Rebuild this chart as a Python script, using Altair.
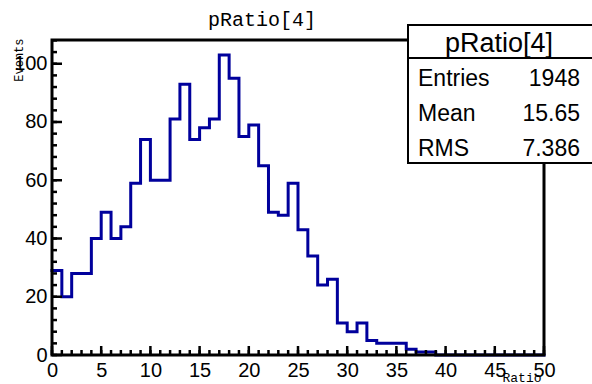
import altair as alt
import pandas as pd

# Histogram pRatio[4]: 50 bins of width 1 on [0, 50]
x_lo, x_hi, n_bins = 0, 50, 50
bin_counts = [29, 20, 28, 28, 40, 49, 40, 44, 59, 74,
              60, 60, 81, 93, 74, 78, 81, 103, 95, 75,
              79, 65, 49, 48, 59, 43, 34, 24, 26, 11,
              8, 11, 5, 4, 4, 4, 2, 1, 1, 0,
              0, 0, 0, 0, 0, 0, 0, 0, 0, 0]

x_major = list(range(0, 51, 5))
x_minor = list(range(0, 51, 1))
y_major = list(range(0, 101, 20))
y_minor = list(range(0, 109, 4))

hist_title = "pRatio[4]"
x_title = "Ratio"
y_title = "Events"
stat_names = ["Entries", "Mean", "RMS"]
stat_values = ["1948", "15.65", "7.386"]

y_max = 1.05 * max(bin_counts)

# plot-area size in pixels
W, H = 492, 315
LINE_BLUE = "#00009c"
SANS = "Liberation Sans"
MONO = "Liberation Mono"

edges = [x_lo + i * (x_hi - x_lo) / n_bins for i in range(n_bins + 1)]
hist = pd.DataFrame({"x": edges, "n": bin_counts + [bin_counts[-1]]})

xs = alt.Scale(domain=[x_lo, x_hi], nice=False, zero=False)
ys = alt.Scale(domain=[0, y_max], nice=False)

x_axis = alt.Axis(values=x_major, ticks=False, domain=False, grid=False,
                  labelFont=SANS, labelFontSize=20, labelColor="black",
                  labelPadding=5, labelBaseline="top", labelFlush=False,
                  title=x_title, titleFont=MONO, titleFontSize=13,
                  titleFontWeight="normal", titleColor="black",
                  titleAnchor="end", titleX=489, titleY=26,
                  titleBaseline="alphabetic")
y_axis = alt.Axis(values=y_major, ticks=False, domain=False, grid=False,
                  labelFont=SANS, labelFontSize=20, labelColor="black",
                  labelPadding=5, labelFlush=False,
                  title=y_title, titleFont=MONO, titleFontSize=12,
                  titleFontWeight="normal", titleColor="black",
                  titleAnchor="end", titleX=-27, titleY=-2,
                  titleBaseline="bottom")

X = alt.X("x:Q", scale=xs, axis=x_axis)
Y = alt.Y("n:Q", scale=ys, axis=y_axis)

one = pd.DataFrame({"k": [0]})

# histogram outline
line = alt.Chart(hist).mark_line(
    interpolate="step-after", color=LINE_BLUE, strokeWidth=3,
    strokeJoin="miter", strokeCap="square"
).encode(x=X, y=Y)

# frame around the plot area
frame = alt.Chart(one).mark_rect(
    fillOpacity=0, stroke="black", strokeWidth=3
).encode(x=alt.value(0), x2=alt.value(W), y=alt.value(0), y2=alt.value(H))

# inward ticks
def xticks(vals, size):
    return alt.Chart(pd.DataFrame({"x": vals})).mark_rule(
        color="black", strokeWidth=2.5
    ).encode(x=X, y=alt.value(H), y2=alt.value(H - size))

def yticks(vals, size):
    return alt.Chart(pd.DataFrame({"n": vals})).mark_rule(
        color="black", strokeWidth=2.5
    ).encode(y=Y, x=alt.value(0), x2=alt.value(size))

ticks = [xticks(x_minor, 5), xticks(x_major, 9),
         yticks(y_minor, 5), yticks(y_major, 10)]

# title
title = alt.Chart(pd.DataFrame({"t": [hist_title]})).mark_text(
    font=MONO, fontSize=20, align="center", baseline="alphabetic", color="black"
).encode(x=alt.value(210), y=alt.value(-14), text="t:N")

# statistics box
bx0, bx1, by0, by1 = 356, 560, -15, 123
box = alt.Chart(one).mark_rect(
    fill="white", stroke="black", strokeWidth=2
).encode(x=alt.value(bx0), x2=alt.value(bx1), y=alt.value(by0), y2=alt.value(by1))
divider = alt.Chart(one).mark_rule(color="black", strokeWidth=2).encode(
    x=alt.value(bx0), x2=alt.value(bx1), y=alt.value(18))
box_head = alt.Chart(pd.DataFrame({"t": [hist_title]})).mark_text(
    font=SANS, fontSize=27, align="center", baseline="alphabetic", color="black"
).encode(x=alt.value(447), y=alt.value(12), text="t:N")

stat_layers = []
for i, (name, val) in enumerate(zip(stat_names, stat_values)):
    yb = 46 + 35 * i
    stat_layers.append(alt.Chart(pd.DataFrame({"t": [name]})).mark_text(
        font=SANS, fontSize=23, align="left", baseline="alphabetic", color="black"
    ).encode(x=alt.value(366), y=alt.value(yb), text="t:N"))
    stat_layers.append(alt.Chart(pd.DataFrame({"t": [val]})).mark_text(
        font=SANS, fontSize=23, align="right", baseline="alphabetic", color="black"
    ).encode(x=alt.value(528), y=alt.value(yb), text="t:N"))

chart = alt.layer(
    line, *ticks, frame, title, box, divider, box_head, *stat_layers
).properties(
    width=W, height=H,
    autosize=alt.AutoSizeParams(type="none"),
    padding={"left": 52, "top": 40, "right": 48, "bottom": 29},
    background="white",
).configure_view(strokeWidth=0)

chart.save("out.html", embed_options={"renderer": "svg", "actions": False})
